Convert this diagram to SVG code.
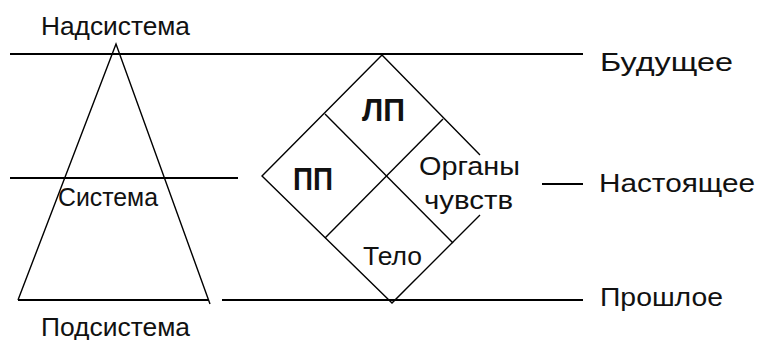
<svg xmlns="http://www.w3.org/2000/svg" width="758" height="340" viewBox="0 0 758 340">
<style>
.h{stroke:#000;stroke-width:2;fill:none}
.d{stroke:#000;stroke-width:1.4;fill:none}
text{font-family:"Liberation Sans",Arial,sans-serif;font-size:25px;fill:#111}
.b{font-weight:bold;font-size:31px}
</style>
<rect width="758" height="340" fill="#fff"/>
<g id="connectors">
<line class="h" x1="10" y1="54" x2="583" y2="54"/>
<line class="h" x1="10" y1="178" x2="238" y2="178"/>
<line class="h" x1="18" y1="300" x2="208" y2="300"/>
<line class="h" x1="222" y1="300" x2="583" y2="300"/>
<line class="h" x1="542" y1="184" x2="583" y2="184"/>
</g>
<g id="triangle">
<polyline class="d" points="18,300 116,44 210,304"/>
</g>
<g id="diamond">
<polyline class="d" points="480,155 382,55 262,176 392,303 480,215"/>
<line class="d" x1="325" y1="114" x2="453" y2="243"/>
<line class="d" x1="443" y1="119" x2="325" y2="238"/>
</g>
<g id="labels">
<text x="41" y="35" textLength="149" lengthAdjust="spacingAndGlyphs">Надсистема</text>
<text x="58" y="206" textLength="100" lengthAdjust="spacingAndGlyphs">Система</text>
<text x="41" y="336" textLength="149" lengthAdjust="spacingAndGlyphs">Подсистема</text>
<text class="b" x="362" y="121" textLength="43" lengthAdjust="spacingAndGlyphs">ЛП</text>
<text class="b" x="293" y="190" textLength="40" lengthAdjust="spacingAndGlyphs">ПП</text>
<text x="419" y="175" textLength="101" lengthAdjust="spacingAndGlyphs">Органы</text>
<text x="424" y="209" textLength="89" lengthAdjust="spacingAndGlyphs">чувств</text>
<text x="363" y="265" textLength="59" lengthAdjust="spacingAndGlyphs">Тело</text>
<text x="600" y="71" textLength="133" lengthAdjust="spacingAndGlyphs">Будущее</text>
<text x="599" y="192" textLength="156" lengthAdjust="spacingAndGlyphs">Настоящее</text>
<text x="600" y="306" textLength="123" lengthAdjust="spacingAndGlyphs">Прошлое</text>
</g>
</svg>
